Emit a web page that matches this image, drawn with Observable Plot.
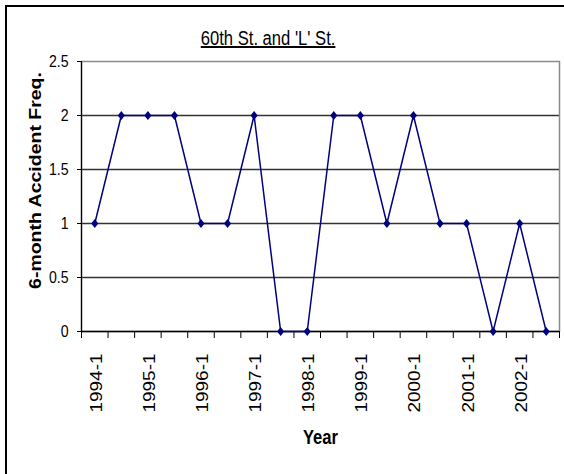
<!DOCTYPE html>
<html><head><meta charset="utf-8">
<script src="https://cdn.jsdelivr.net/npm/d3@7"></script>
<script src="https://cdn.jsdelivr.net/npm/@observablehq/plot@0.6"></script>
<style>
body{margin:0;background:#fff;}
#wrap{position:relative;width:564px;height:474px;overflow:hidden;background:#fff;}
#border{position:absolute;left:5px;top:5px;width:620px;height:520px;border:2px solid #000;}
#title{position:absolute;left:0;width:536px;top:27px;text-align:center;}
#title span{display:inline-block;font-family:"Liberation Sans",Arial,sans-serif;font-size:20px;text-decoration:underline;color:#000;transform:scaleX(0.83);transform-origin:center;}
#chart{position:absolute;left:0;top:0;}
</style></head><body>
<div id="wrap"><div id="border"></div><div id="chart"></div><div id="title"><span></span></div></div>
<script>
const periods = ["1994-1","1994-2","1995-1","1995-2","1996-1","1996-2","1997-1","1997-2","1998-1","1998-2","1999-1","1999-2","2000-1","2000-2","2001-1","2001-2","2002-1","2002-2"];
const freq = [1,2,2,2,1,1,2,0,0,2,2,1,2,1,1,0,1,0];
const xTickLabels = ["1994-1","1995-1","1996-1","1997-1","1998-1","1999-1","2000-1","2001-1","2002-1"];
const yTicks = [0,0.5,1,1.5,2,2.5];
const titleText = "60th St. and 'L' St.";
const xTitle = "Year";
const yTitle = "6-month Accident Freq.";

document.querySelector("#title span").textContent = titleText;
const data = periods.map((p, i) => ({i, period: p, value: freq[i]}));
const font = '"Liberation Sans",Arial,sans-serif';
const kite = {draw(ctx, size) { const r = Math.sqrt(size / Math.PI); ctx.moveTo(0, -r * 1.1); ctx.lineTo(r * 0.85, 0); ctx.lineTo(0, r * 1.1); ctx.lineTo(-r * 0.85, 0); ctx.closePath(); }};

const chart = Plot.plot({
  width: 564, height: 474,
  marginLeft: 81, marginRight: 5, marginTop: 61, marginBottom: 143,
  style: {fontFamily: font, fontSize: "17px", color: "#000", background: "transparent", overflow: "visible"},
  x: {type: "linear", domain: [-0.5, periods.length - 0.5], axis: null},
  y: {domain: [0, 2.5], axis: null},
  marks: [
    Plot.ruleY(yTicks.filter(v => v > 0 && v < 2.5), {stroke: "#333", strokeWidth: 1.4}),
    Plot.frame({stroke: "#8a8a8a", strokeWidth: 1.5}),
    Plot.ruleX([-0.5], {stroke: "#000", strokeWidth: 1.2}),
    Plot.ruleY([0], {stroke: "#000", strokeWidth: 1.4}),
    Plot.axisY({ticks: yTicks, tickSize: 4, tickPadding: 9, label: null, tickFormat: d => String(d), fontSize: 17}),
    Plot.axisX({ticks: d3.range(periods.length + 1).map(i => i - 0.5), tickSize: 7, tickFormat: () => "", label: null}),
    Plot.text(xTickLabels, {x: d => periods.indexOf(d), text: d => d, frameAnchor: "bottom", rotate: -90, textAnchor: "end", lineAnchor: "middle", dy: 22, dx: 2, fontSize: 19}),
    Plot.line(data, {x: "i", y: "value", stroke: "#000080", strokeWidth: 1.5}),
    Plot.dot(data, {x: "i", y: "value", symbol: kite, r: 4.2, fill: "#000080", stroke: "none"}),
    Plot.text([yTitle], {text: d => d, frameAnchor: "left", rotate: -90, textAnchor: "middle", lineAnchor: "middle", dx: -46, dy: -16, fontWeight: "bold", fontSize: 19.5}),
    Plot.text([xTitle], {text: d => d, frameAnchor: "bottom", textAnchor: "middle", lineAnchor: "middle", dy: 106, fontWeight: "bold", fontSize: 20})
  ]
});
document.getElementById("chart").appendChild(chart);

// emulate the horizontally compressed lettering of the original picture
function squeeze(el, sx, sy) {
  const t = el.getAttribute("transform") || "";
  el.setAttribute("transform", `${t} scale(${sx},${sy})`);
}
const yTickStr = yTicks.map(String);
d3.select(chart).selectAll("text").each(function() {
  const s = this.textContent;
  if (xTickLabels.includes(s) || s === yTitle) squeeze(this, 1, 0.83);
  else if (yTickStr.includes(s) || s === xTitle) squeeze(this, 0.83, 1);
});
</script>
</body></html>
